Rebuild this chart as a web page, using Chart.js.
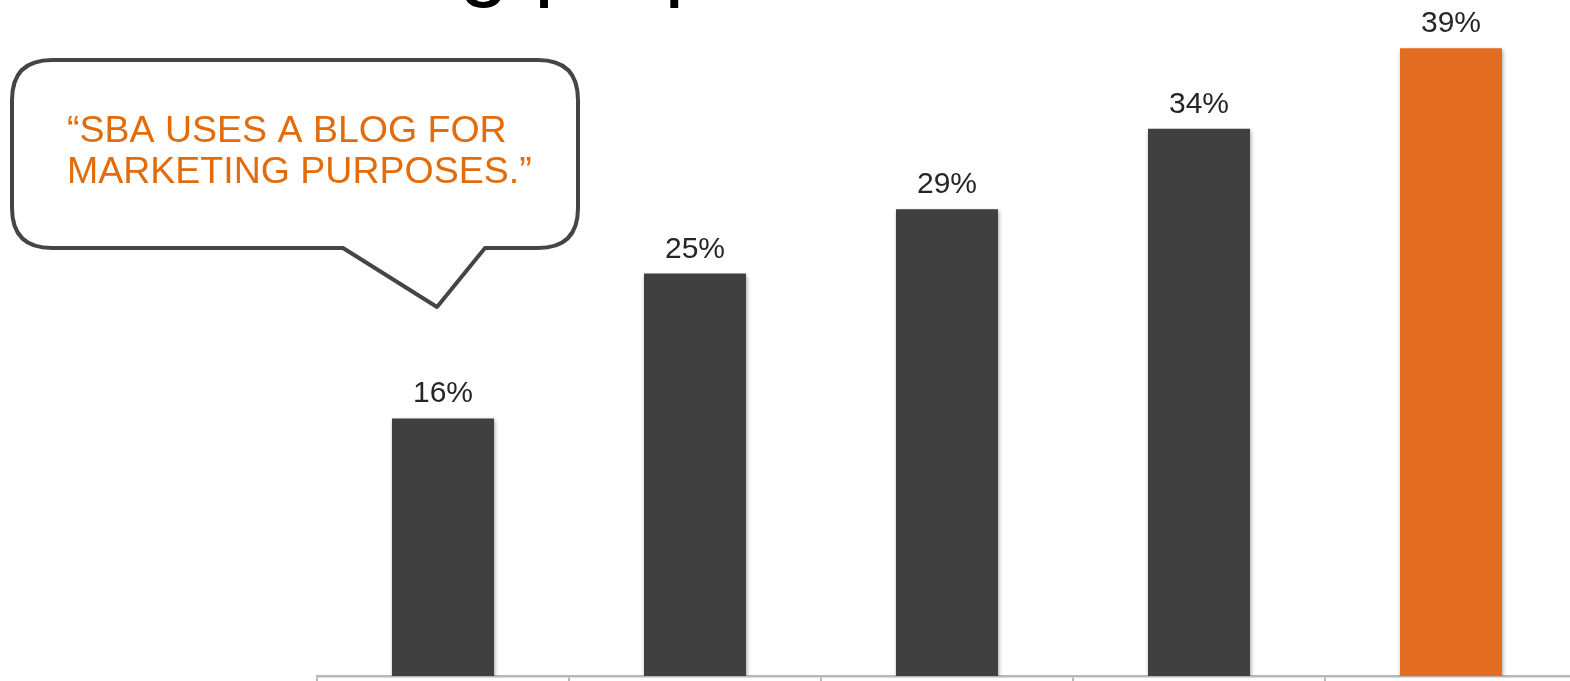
<!DOCTYPE html>
<html>
<head>
<meta charset="utf-8">
<script src="https://cdn.jsdelivr.net/npm/chart.js@4/dist/chart.umd.min.js"></script>
<style>
  html, body { margin: 0; padding: 0; background: #fff; overflow: hidden; }
  canvas { display: block; }
</style>
</head>
<body>
<canvas id="blogChart" width="1580" height="681"></canvas>
<script>
// -------------------------
// DATA
// -------------------------
const categories = ["A", "B", "C", "D", "SBA"];
const shareValues = [16, 25, 29, 34, 39];
const barColors = ["#404040", "#404040", "#404040", "#404040", "#E26D21"];
const calloutLines = ["\u201CSBA USES A BLOG FOR", "MARKETING PURPOSES.\u201D"];

// -------------------------
// PLUGINS
// -------------------------

// soft drop shadow under the bars
const barShadow = {
    id: "barShadow",
    beforeDatasetsDraw(chart) {
        const ctx = chart.ctx;
        ctx.save();
        ctx.shadowColor = "rgba(0,0,0,0.35)";
        ctx.shadowBlur = 4;
        ctx.shadowOffsetX = 1;
        ctx.shadowOffsetY = 2;
    },
    afterDatasetsDraw(chart) {
        chart.ctx.restore();
    }
};

// percent labels above each bar
const valueLabels = {
    id: "valueLabels",
    afterDatasetsDraw(chart) {
        const ctx = chart.ctx;
        const meta = chart.getDatasetMeta(0);
        ctx.save();
        ctx.font = "30px 'Liberation Sans', Arial, sans-serif";
        ctx.fillStyle = "#262626";
        ctx.textAlign = "center";
        ctx.textBaseline = "alphabetic";
        meta.data.forEach((bar, i) => {
            ctx.fillText(shareValues[i] + "%", bar.x, bar.y - 16);
        });
        ctx.restore();
    }
};

// heading that runs off the top edge, plus the speech bubble
const slideExtras = {
    id: "slideExtras",
    afterDraw(chart) {
        const ctx = chart.ctx;
        ctx.save();

        // heading
        ctx.font = "90px 'Liberation Sans', Arial, sans-serif";
        ctx.fillStyle = "#000";
        ctx.textBaseline = "alphabetic";
        const lead = ctx.measureText("marketin").width;
        ctx.fillText("marketing purposes", 459 - lead, -11);

        // bubble
        const l = 12, t = 60, r = 578, b = 248, rad = 40;
        ctx.beginPath();
        ctx.moveTo(l + rad, t);
        ctx.lineTo(r - rad, t);
        ctx.quadraticCurveTo(r, t, r, t + rad);
        ctx.lineTo(r, b - rad);
        ctx.quadraticCurveTo(r, b, r - rad, b);
        ctx.lineTo(485, b);
        ctx.lineTo(437, 307);
        ctx.lineTo(343, b);
        ctx.lineTo(l + rad, b);
        ctx.quadraticCurveTo(l, b, l, b - rad);
        ctx.lineTo(l, t + rad);
        ctx.quadraticCurveTo(l, t, l + rad, t);
        ctx.closePath();
        ctx.fillStyle = "#fff";
        ctx.fill();
        ctx.lineWidth = 4;
        ctx.strokeStyle = "#454545";
        ctx.lineJoin = "round";
        ctx.stroke();

        ctx.font = "37.5px 'Liberation Sans', Arial, sans-serif";
        ctx.fillStyle = "#E36C0A";
        ctx.textAlign = "left";
        ctx.fillText(calloutLines[0], 67, 142);
        ctx.fillText(calloutLines[1], 67, 183);

        ctx.restore();
    }
};

// -------------------------
// CHART
// -------------------------
const ctx = document.getElementById("blogChart").getContext("2d");

new Chart(ctx, {
    type: "bar",
    data: {
        labels: categories,
        datasets: [{
            data: shareValues,
            backgroundColor: barColors,
            borderWidth: 0,
            barPercentage: 0.405,
            categoryPercentage: 1
        }]
    },
    options: {
        responsive: false,
        animation: false,
        layout: {
            padding: { left: 317, right: 3, top: 0, bottom: 0 }
        },
        plugins: {
            legend: { display: false },
            tooltip: { enabled: false }
        },
        scales: {
            x: {
                offset: true,
                grid: {
                    offset: true,
                    drawOnChartArea: false,
                    drawTicks: true,
                    tickLength: 5,
                    color: "#b8b8b8",
                    lineWidth: 2
                },
                border: { display: true, color: "#b8b8b8", width: 2.5 },
                ticks: { display: false }
            },
            y: {
                display: false,
                min: 0,
                max: 42
            }
        }
    },
    plugins: [barShadow, valueLabels, slideExtras]
});
</script>
</body>
</html>
